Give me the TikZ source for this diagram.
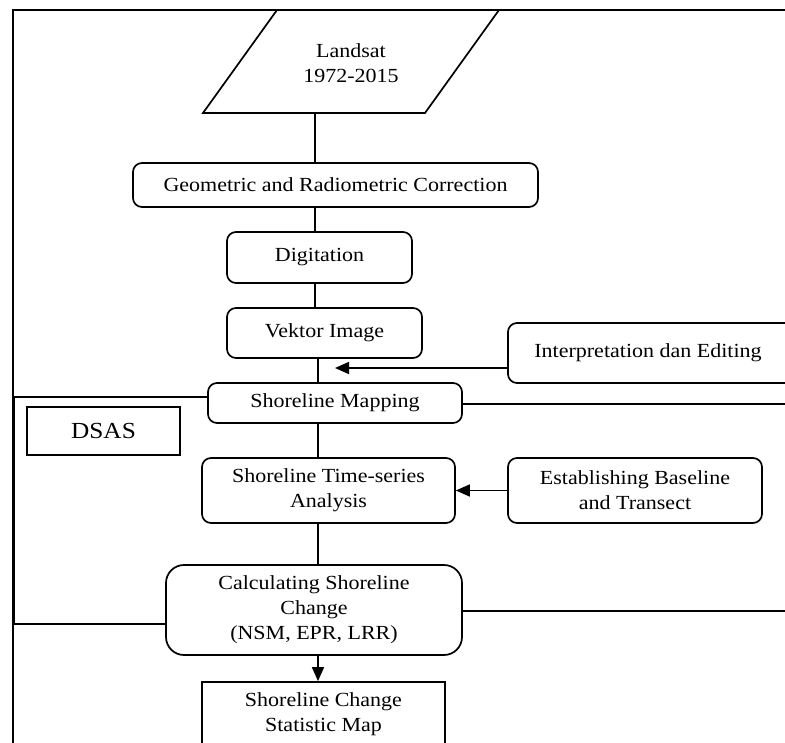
\documentclass[tikz,border=0pt]{standalone}
\usepackage{fontspec}
\setmainfont{Liberation Serif}[FakeStretch=1.1]
\usetikzlibrary{arrows.meta}
\begin{document}
\begin{tikzpicture}[x=1pt,y=-1pt,
  txt/.style={font=\fontsize{20}{25}\selectfont, align=center, inner sep=0pt},
  box/.style={txt, draw, line width=1.7pt, rounded corners=9pt},
  sbox/.style={txt, draw, line width=1.7pt},
  conn/.style={line width=1.7pt},
  arr/.style={line width=1.7pt, -{Triangle[length=14pt,width=12pt]}},
  frame/.style={line width=2.6pt}
]
\clip (0,0) rectangle (785,743);
\fill[white] (0,0) rectangle (785,743);
% outer frame
\draw[frame] (13,760) -- (13,10) -- (800,10);
% input parallelogram
\draw[line width=1.7pt] (277,10) -- (499,10) -- (425,113) -- (203,113) -- cycle;
\node[txt] (land) at (351,63) {Landsat\\1972-2015};
\coordinate (landb) at (315,113);
% boxes
\node[box, minimum width=405pt, minimum height=44pt] (geo) at (335.5,185) {Geometric and Radiometric Correction};
\node[box, minimum width=185pt, minimum height=51pt] (dig) at (319.5,257.5) {Digitation};
\node[box, minimum width=195pt, minimum height=50pt] (vek) at (324.5,333) {Vektor Image};
\node[box, minimum width=292pt, minimum height=60pt] (int) at (654,353) {\hspace*{-6pt}Interpretation dan Editing\hspace*{6pt}};
\node[box, minimum width=254pt, minimum height=40pt] (sm) at (335,403) {Shoreline Mapping};
\node[sbox, minimum width=153pt, minimum height=48pt, font=\fontsize{23}{26}\selectfont] (dsas) at (103.5,431) {DSAS};
\node[box, minimum width=253pt, minimum height=65pt] (ts) at (328.5,490.5) {Shoreline Time-series\\Analysis};
\node[box, minimum width=254pt, minimum height=65pt] (eb) at (635,490.5) {Establishing Baseline\\and Transect};
\node[box, rounded corners=18pt, minimum width=296pt, minimum height=90pt] (calc) at (314,610) {Calculating Shoreline\\Change\\(NSM, EPR, LRR)};
\node[sbox, minimum width=243pt, minimum height=64pt] (stat) at (323.5,714) {Shoreline Change\\Statistic Map};
% helper coordinates
\coordinate (vx) at (315,0);
\coordinate (vy) at (318,0);
\coordinate (arrend) at (335,368);
\coordinate (lt) at (14,397);
\coordinate (lb) at (14,624);
\coordinate (r1) at (790,404);
\coordinate (r2) at (790,611);
% connectors
\draw[conn] (landb) -- (geo.north -| landb);
\draw[conn] (geo.south -| vx) -- (dig.north -| vx);
\draw[conn] (dig.south -| vx) -- (vek.north -| vx);
\draw[conn] (vek.south -| vy) -- (sm.north -| vy);
\draw[arr] (int.west |- arrend) -- (arrend);
\draw[conn] (sm.south -| vy) -- (ts.north -| vy);
\draw[arr] (eb.west) -- (ts.east);
\draw[conn] (ts.south -| vy) -- (calc.north -| vy);
\draw[arr] (calc.south -| vy) -- (stat.north -| vy);
\draw[conn] (sm.west |- lt) -- (lt) -- (lb) -- (calc.west |- lb);
\draw[conn] (sm.east |- r1) -- (r1);
\draw[conn] (calc.east |- r2) -- (r2);
\end{tikzpicture}
\end{document}
